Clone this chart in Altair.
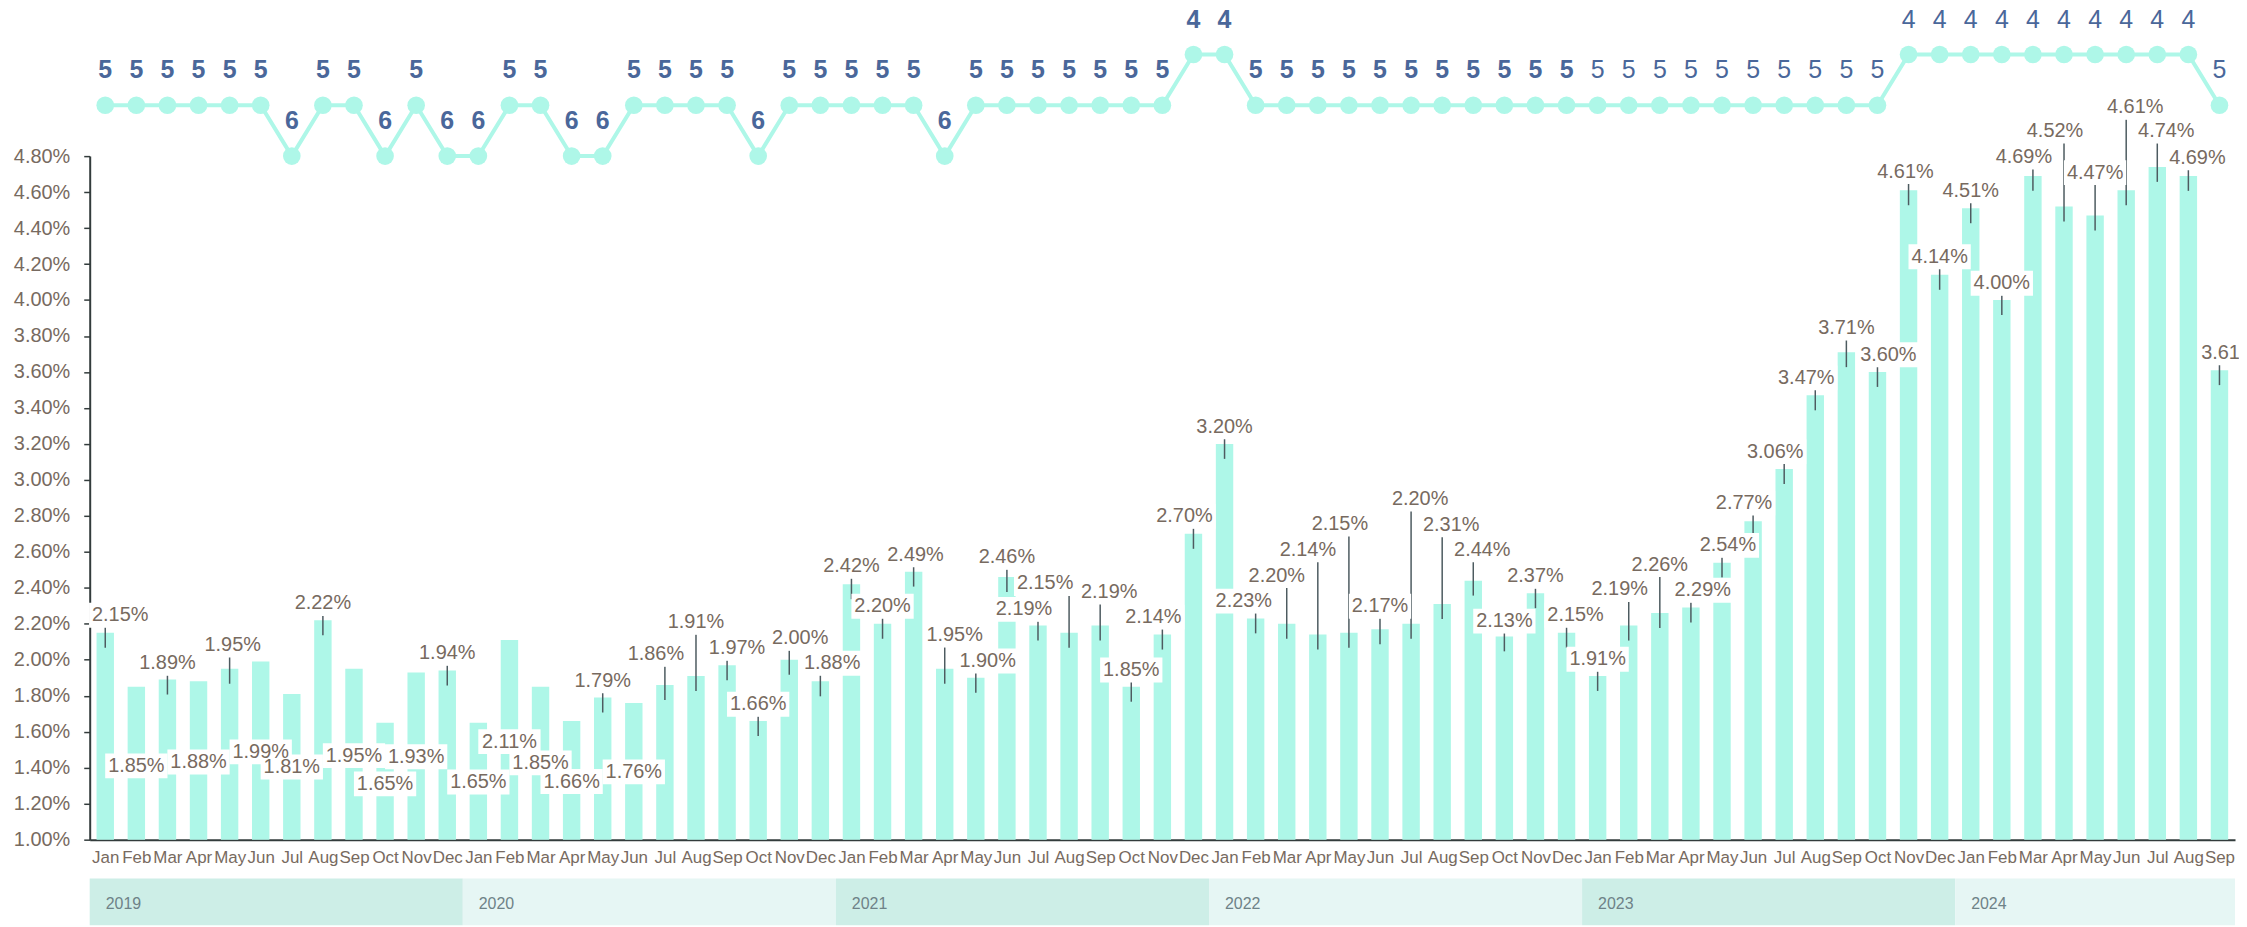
import altair as alt
import pandas as pd

# ---------------- data ----------------
months = ["Jan", "Feb", "Mar", "Apr", "May", "Jun", "Jul", "Aug", "Sep", "Oct", "Nov", "Dec"]
years = [2019, 2020, 2021, 2022, 2023, 2024]

rate_2019 = [2.15, 1.85, 1.89, 1.88, 1.95, 1.99, 1.81, 2.22, 1.95, 1.65, 1.93, 1.94]
rate_2020 = [1.65, 2.11, 1.85, 1.66, 1.79, 1.76, 1.86, 1.91, 1.97, 1.66, 2.00, 1.88]
rate_2021 = [2.42, 2.20, 2.49, 1.95, 1.90, 2.46, 2.19, 2.15, 2.19, 1.85, 2.14, 2.70]
rate_2022 = [3.20, 2.23, 2.20, 2.14, 2.15, 2.17, 2.20, 2.31, 2.44, 2.13, 2.37, 2.15]
rate_2023 = [1.91, 2.19, 2.26, 2.29, 2.54, 2.77, 3.06, 3.47, 3.71, 3.60, 4.61, 4.14]
rate_2024 = [4.51, 4.00, 4.69, 4.52, 4.47, 4.61, 4.74, 4.69, 3.61]

count_2019 = [5, 5, 5, 5, 5, 5, 6, 5, 5, 6, 5, 6]
count_2020 = [6, 5, 5, 6, 6, 5, 5, 5, 5, 6, 5, 5]
count_2021 = [5, 5, 5, 6, 5, 5, 5, 5, 5, 5, 5, 4]
count_2022 = [4, 5, 5, 5, 5, 5, 5, 5, 5, 5, 5, 5]
count_2023 = [5, 5, 5, 5, 5, 5, 5, 5, 5, 5, 4, 4]
count_2024 = [4, 4, 4, 4, 4, 4, 4, 4, 5]

# where each value label sits (in % units) and its sideways shift (in months)
label_pos_2019 = [2.248, 1.410, 1.981, 1.432, 2.082, 1.488, 1.404, 2.313, 1.467, 1.310, 1.461, 2.036]
label_pos_2020 = [1.321, 1.545, 1.427, 1.323, 1.883, 1.377, 2.030, 2.208, 2.064, 1.753, 2.119, 1.981]
label_pos_2021 = [2.520, 2.298, 2.584, 2.137, 1.993, 2.570, 2.280, 2.424, 2.376, 1.943, 2.237, 2.797]
label_pos_2022 = [3.295, 2.326, 2.468, 2.612, 2.755, 2.298, 2.893, 2.751, 2.612, 2.215, 2.464, 2.248]
label_pos_2023 = [2.003, 2.391, 2.529, 2.387, 2.636, 2.871, 3.157, 3.567, 3.844, 3.696, 4.714, 4.241]
label_pos_2024 = [4.607, 4.093, 4.795, 4.939, 4.708, 5.072, 4.939, 4.791, 3.707]

label_shift_2019 = [0.48, 0, 0, 0, 0.1, 0, 0, 0, 0, 0, 0, 0]
label_shift_2020 = [0, 0, 0, 0, 0, 0, -0.29, 0, 0.32, 0, 0.35, 0.38]
label_shift_2021 = [0, 0, 0.06, 0.32, 0.38, 0, -0.45, -0.77, 0.29, 0, -0.29, -0.29]
label_shift_2022 = [0, -0.38, -0.32, -0.32, -0.29, 0, 0.29, 0.29, 0.29, 0, 0, 0.29]
label_shift_2023 = [0, -0.29, 0, 0.38, 0.19, -0.29, -0.29, -0.29, 0, 0.35, -0.1, 0]
label_shift_2024 = [0, 0, -0.29, -0.29, 0, 0.29, 0.29, 0.29, 0.32]

y_ticks = [1.0, 1.2, 1.4, 1.6, 1.8, 2.0, 2.2, 2.4, 2.6, 2.8, 3.0, 3.2, 3.4, 3.6, 3.8, 4.0, 4.2, 4.4, 4.6, 4.8]

rates = rate_2019 + rate_2020 + rate_2021 + rate_2022 + rate_2023 + rate_2024
counts = count_2019 + count_2020 + count_2021 + count_2022 + count_2023 + count_2024
label_pos = label_pos_2019 + label_pos_2020 + label_pos_2021 + label_pos_2022 + label_pos_2023 + label_pos_2024
label_shift = (label_shift_2019 + label_shift_2020 + label_shift_2021 + label_shift_2022
               + label_shift_2023 + label_shift_2024)
n = len(rates)

df = pd.DataFrame({
    "idx": list(range(n)),
    "year": [years[i // 12] for i in range(n)],
    "month": [months[i % 12] for i in range(n)],
    "rate": rates,
    "count": counts,
    "label_pos": label_pos,
    "label_shift": label_shift,
})

band_df = pd.DataFrame({
    "year": [str(y) for y in years],
    "start": [min(i for i in range(n) if i // 12 == k) for k in range(len(years))],
    "end": [max(i for i in range(n) if i // 12 == k) for k in range(len(years))],
})

# ---------------- styles ----------------
FONT = "Liberation Sans"
AQUA = "#aef7e8"
TEXT = "#776a60"
AXIS = "#333c3c"
LEADER = "#4d5b60"
NUM = "#4a679a"
band_colors = ["#cdeee7", "#e6f6f4", "#cdeee7", "#e6f6f4", "#cdeee7", "#e6f6f4"]

month_expr = "[" + ",".join("'%s'" % m for m in months) + "][datum.value % 12]"

xscale = alt.Scale(domain=[-0.5, n - 0.5], nice=False, zero=False)
xaxis = alt.Axis(values=list(range(n)), labelExpr=month_expr, ticks=False, grid=False,
                 title=None, domainColor=AXIS, domainWidth=2, labelFontSize=17,
                 labelColor=TEXT, labelFont=FONT, labelPadding=10, labelOverlap=False,
                 labelFlush=False)


def X(f):
    return alt.X(f, type="quantitative", scale=xscale, axis=xaxis)


yscale = alt.Scale(domain=[1.0, 4.8], nice=False, zero=False)
yaxis = alt.Axis(values=y_ticks, labelExpr="format(datum.value, '.2f') + '%'", grid=False,
                 title=None, domainColor=AXIS, domainWidth=2, tickColor=AXIS, tickWidth=1.5,
                 tickSize=6, labelFontSize=20, labelColor=TEXT, labelFont=FONT, labelPadding=14)


def Y(f):
    return alt.Y(f, type="quantitative", scale=yscale, axis=yaxis)


# year bands under the month axis
bands = alt.Chart(band_df).transform_calculate(
    lo="datum.start - 0.5", hi="datum.end + 0.5"
).mark_rect().encode(
    x=X("lo"), x2=alt.X2("hi"),
    y=alt.value(725), y2=alt.value(772),
    color=alt.Color("year:N", scale=alt.Scale(domain=[str(y) for y in years], range=band_colors),
                    legend=None),
)
band_text = alt.Chart(band_df).transform_calculate(
    lo="datum.start - 0.5"
).mark_text(align="left", baseline="middle", dx=16, fontSize=16, font=FONT,
            color="#6e8287").encode(
    x=X("lo"), y=alt.value(751), text="year:N"
)

base = alt.Chart().transform_calculate(
    x_lo="datum.idx - 0.28", x_hi="datum.idx + 0.28",
    lx="datum.idx + datum.label_shift",
    txt="format(datum.rate, '.2f') + '%'",
)

bars = base.mark_bar(color=AQUA).encode(
    x=X("x_lo"), x2=alt.X2("x_hi"), y=Y("rate"), y2=alt.datum(1.0)
)
leaders = base.transform_filter("datum.label_pos > datum.rate").mark_rule(
    color=LEADER, strokeWidth=1.5, yOffset=12, y2Offset=15
).encode(x=X("idx"), y=Y("label_pos"), y2=alt.Y2("rate"))
boxes = base.mark_point(
    shape="M-2.5,-1H2.5V1H-2.5Z", filled=True, fill="white", opacity=1, size=625, strokeWidth=0
).encode(x=X("lx"), y=Y("label_pos"))
labels = base.mark_text(align="center", baseline="middle", fontSize=20, font=FONT,
                        color=TEXT).encode(x=X("lx"), y=Y("label_pos"), text="txt:N")

bar_group = alt.layer(bands, band_text, bars, leaders, boxes, labels)

# top line of counts, on its own (reversed) scale
cscale = alt.Scale(domain=[6, 19.45], reverse=True, nice=False, zero=False)
cline = alt.Chart().mark_line(color=AQUA, strokeWidth=4).encode(
    x=X("idx"), y=alt.Y("count:Q", scale=cscale, axis=None)
)
cpoints = alt.Chart().mark_circle(color=AQUA, opacity=1, size=314).encode(
    x=X("idx"), y=alt.Y("count:Q", scale=cscale, axis=None)
)
ctext_bold = alt.Chart().transform_filter("datum.year <= 2022").mark_text(
    baseline="middle", dy=-35, fontSize=25, fontWeight="bold", font=FONT, color=NUM
).encode(x=X("idx"), y=alt.Y("count:Q", scale=cscale, axis=None), text=alt.Text("count:Q", format="d"))
ctext_norm = alt.Chart().transform_filter("datum.year > 2022").mark_text(
    baseline="middle", dy=-35, fontSize=25, font=FONT, color=NUM
).encode(x=X("idx"), y=alt.Y("count:Q", scale=cscale, axis=None), text=alt.Text("count:Q", format="d"))

line_group = alt.layer(cline, cpoints, ctext_bold, ctext_norm)

chart = alt.layer(bar_group, line_group, data=df).resolve_scale(y="independent").properties(
    width=2153, height=686,
    padding={"left": 82, "top": 147, "right": 4, "bottom": 86},
    autosize=alt.AutoSizeParams(type="none"),
    background="white",
).configure_view(stroke=None)

chart.save("out.html", embed_options={"renderer": "svg", "actions": False})
